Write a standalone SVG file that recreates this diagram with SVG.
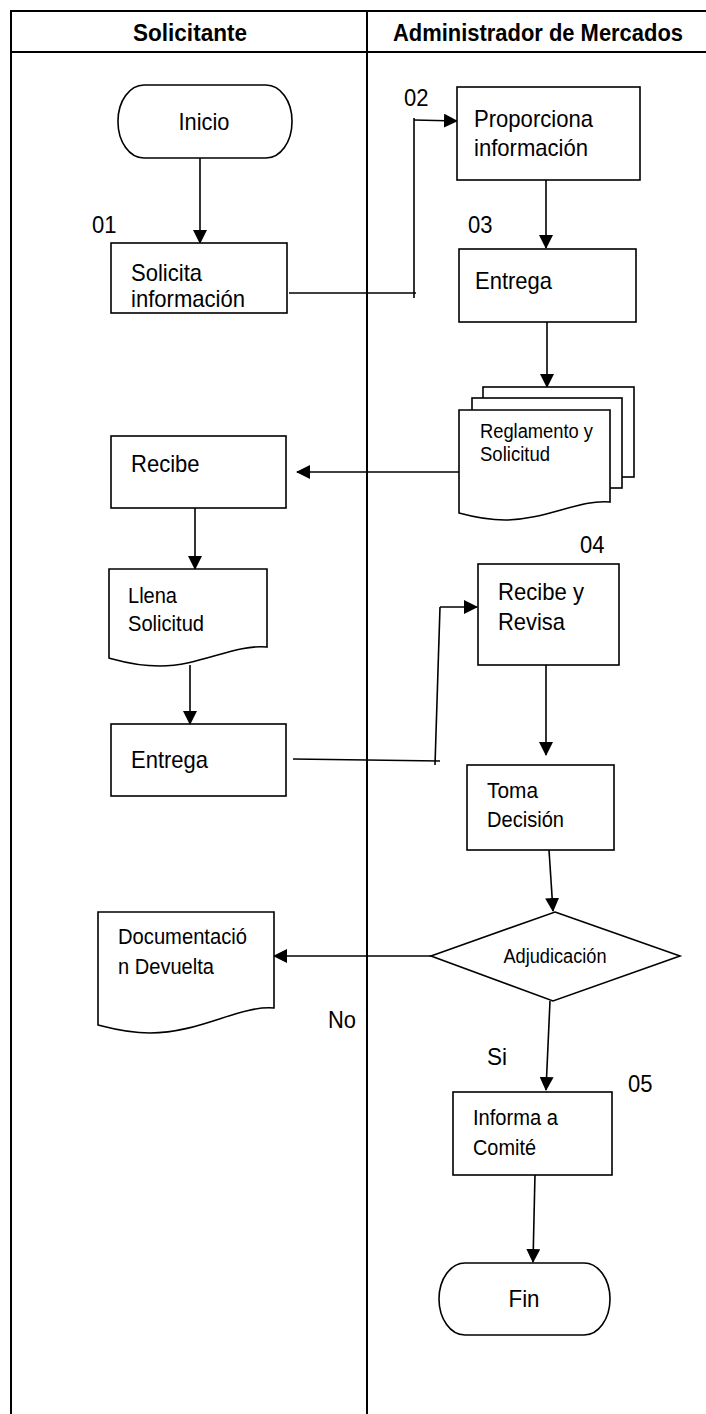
<svg xmlns="http://www.w3.org/2000/svg" width="706" height="1414" viewBox="0 0 706 1414">
<style>
.box{fill:#fff;stroke:#000;stroke-width:1.6}
.ln{fill:none;stroke:#000;stroke-width:1.6}
.frame{fill:none;stroke:#000;stroke-width:2}
.t{font-family:"Liberation Sans",Arial,sans-serif;fill:#000}
.L{font-size:24px}
.S{font-size:21.5px}
.R{font-size:20px}
.A{font-size:19.5px}
.h{font-weight:bold;font-size:23px;text-anchor:middle}
.m{text-anchor:middle}
</style>
<defs>
<marker id="ah" markerUnits="userSpaceOnUse" markerWidth="14" markerHeight="14" refX="13" refY="7" orient="auto">
<path d="M0,0 L14,7 L0,14 Z" fill="#000"/>
</marker>
</defs>
<rect width="706" height="1414" fill="#fff"/>
<g id="frame">
<line class="frame" x1="10" y1="11" x2="706" y2="11"/>
<line class="frame" x1="10" y1="52" x2="706" y2="52" stroke-width="1.8"/>
<line class="frame" x1="11" y1="10" x2="11" y2="1414" stroke-width="2.5"/>
<line class="frame" x1="367" y1="10" x2="367" y2="1414"/>
<text class="t h" x="190" y="41" textLength="114" lengthAdjust="spacingAndGlyphs">Solicitante</text>
<text class="t h" x="538" y="41" textLength="290" lengthAdjust="spacingAndGlyphs">Administrador de Mercados</text>
</g>
<g id="connectors">
<line class="ln" x1="200" y1="158" x2="200" y2="243" marker-end="url(#ah)"/>
<line class="ln" x1="289" y1="293" x2="416" y2="293"/>
<line class="ln" x1="414" y1="118" x2="414" y2="298"/>
<line class="ln" x1="414" y1="120" x2="457" y2="121" marker-end="url(#ah)"/>
<line class="ln" x1="546" y1="180" x2="546" y2="248" marker-end="url(#ah)"/>
<line class="ln" x1="547" y1="322" x2="547" y2="387" marker-end="url(#ah)"/>
<line class="ln" x1="459" y1="472" x2="297" y2="472" marker-end="url(#ah)"/>
<line class="ln" x1="195" y1="508" x2="195" y2="569" marker-end="url(#ah)"/>
<line class="ln" x1="190" y1="665" x2="190" y2="724" marker-end="url(#ah)"/>
<line class="ln" x1="293" y1="759" x2="440" y2="761"/>
<line class="ln" x1="435" y1="765" x2="440" y2="607"/>
<line class="ln" x1="440" y1="607" x2="477" y2="607" marker-end="url(#ah)"/>
<line class="ln" x1="546" y1="665" x2="546" y2="755" marker-end="url(#ah)"/>
<line class="ln" x1="549" y1="850" x2="553" y2="911" marker-end="url(#ah)"/>
<line class="ln" x1="431" y1="956" x2="274" y2="956" marker-end="url(#ah)"/>
<line class="ln" x1="550" y1="1001" x2="546" y2="1090" marker-end="url(#ah)"/>
<line class="ln" x1="535" y1="1174" x2="533" y2="1262" marker-end="url(#ah)"/>
</g>
<g id="inicio">
<rect class="box" x="118" y="85" width="174" height="73" rx="26" ry="36"/>
<text class="t L m" x="204" y="130" textLength="51" lengthAdjust="spacingAndGlyphs">Inicio</text>
</g>
<g id="n01">
<text class="t L" x="92" y="233" textLength="24.5" lengthAdjust="spacingAndGlyphs">01</text>
<rect class="box" x="111" y="243" width="176" height="70"/>
<text class="t L" x="131" y="281" textLength="71" lengthAdjust="spacingAndGlyphs">Solicita</text>
<text class="t L" x="131" y="307" textLength="114" lengthAdjust="spacingAndGlyphs">información</text>
</g>
<g id="n02">
<text class="t L" x="404" y="106" textLength="24.5" lengthAdjust="spacingAndGlyphs">02</text>
<rect class="box" x="457" y="87" width="183" height="93"/>
<text class="t L" x="474" y="127" textLength="119" lengthAdjust="spacingAndGlyphs">Proporciona</text>
<text class="t L" x="474" y="156" textLength="114" lengthAdjust="spacingAndGlyphs">información</text>
</g>
<g id="n03">
<text class="t L" x="468" y="233" textLength="24.5" lengthAdjust="spacingAndGlyphs">03</text>
<rect class="box" x="459" y="249" width="177" height="73"/>
<text class="t L" x="475" y="289" textLength="77" lengthAdjust="spacingAndGlyphs">Entrega</text>
</g>
<g id="reglamento">
<rect class="box" x="483" y="387" width="151" height="90"/>
<rect class="box" x="472" y="398" width="150" height="90"/>
<path class="box" d="M459,410 H610 V502 C580,499 545,520 505,520 C485,520 470,516 459,513 Z"/>
<text class="t R" x="480" y="438" textLength="113" lengthAdjust="spacingAndGlyphs">Reglamento y</text>
<text class="t R" x="480" y="461" textLength="70" lengthAdjust="spacingAndGlyphs">Solicitud</text>
</g>
<g id="recibe">
<rect class="box" x="111" y="436" width="175" height="72"/>
<text class="t L" x="131" y="472" textLength="68.5" lengthAdjust="spacingAndGlyphs">Recibe</text>
</g>
<g id="llena">
<path class="box" d="M109,569 H267 V647 C235,644 200,666 160,666 C135,666 120,661 109,658 Z"/>
<text class="t S" x="128" y="603" textLength="49" lengthAdjust="spacingAndGlyphs">Llena</text>
<text class="t S" x="128" y="631" textLength="76" lengthAdjust="spacingAndGlyphs">Solicitud</text>
</g>
<g id="entrega2">
<rect class="box" x="111" y="724" width="175" height="72"/>
<text class="t L" x="131" y="768" textLength="77" lengthAdjust="spacingAndGlyphs">Entrega</text>
</g>
<g id="n04">
<text class="t L" x="580" y="553" textLength="24.5" lengthAdjust="spacingAndGlyphs">04</text>
<rect class="box" x="478" y="564" width="141" height="101"/>
<text class="t L" x="498" y="600" textLength="86" lengthAdjust="spacingAndGlyphs">Recibe y</text>
<text class="t L" x="498" y="630" textLength="67" lengthAdjust="spacingAndGlyphs">Revisa</text>
</g>
<g id="toma">
<rect class="box" x="467" y="765" width="147" height="85"/>
<text class="t S" x="487" y="798" textLength="51" lengthAdjust="spacingAndGlyphs">Toma</text>
<text class="t S" x="487" y="827" textLength="77" lengthAdjust="spacingAndGlyphs">Decisión</text>
</g>
<g id="adjudicacion">
<path class="box" d="M555,912 L680,956 L553,1001 L431,956 Z"/>
<text class="t A m" x="555" y="963" textLength="103" lengthAdjust="spacingAndGlyphs">Adjudicación</text>
</g>
<g id="devuelta">
<path class="box" d="M98,912 H274 V1008 C240,1005 200,1033 150,1033 C125,1033 110,1028 98,1025 Z"/>
<text class="t S" x="118" y="944" textLength="129" lengthAdjust="spacingAndGlyphs">Documentació</text>
<text class="t S" x="118" y="974" textLength="96" lengthAdjust="spacingAndGlyphs">n Devuelta</text>
</g>
<g id="labels">
<text class="t L" x="328" y="1028" textLength="28" lengthAdjust="spacingAndGlyphs">No</text>
<text class="t L" x="487" y="1065" textLength="20" lengthAdjust="spacingAndGlyphs">Si</text>
</g>
<g id="n05">
<text class="t L" x="628" y="1092" textLength="24.5" lengthAdjust="spacingAndGlyphs">05</text>
<rect class="box" x="453" y="1092" width="159" height="83"/>
<text class="t S" x="473" y="1125" textLength="85" lengthAdjust="spacingAndGlyphs">Informa a</text>
<text class="t S" x="473" y="1155" textLength="63" lengthAdjust="spacingAndGlyphs">Comité</text>
</g>
<g id="fin">
<rect class="box" x="439" y="1263" width="171" height="72" rx="26" ry="36"/>
<text class="t L m" x="524" y="1307" textLength="31" lengthAdjust="spacingAndGlyphs">Fin</text>
</g>
</svg>
